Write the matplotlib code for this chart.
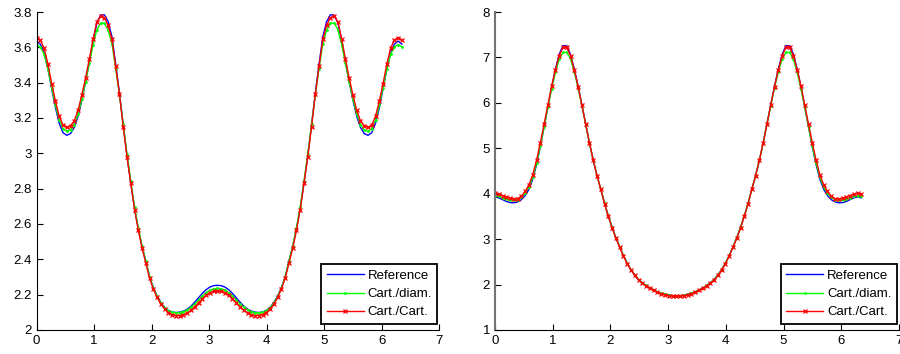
import numpy as np
import matplotlib
matplotlib.use("Agg")
import matplotlib.pyplot as plt

plt.rcParams['font.family'] = ['Liberation Sans', 'DejaVu Sans']

# sample positions (same for every curve)
t = np.linspace(0, 6.35, 98)

# left panel
left_ref = [3.635, 3.618, 3.568, 3.478, 3.365, 3.258, 3.170, 3.117, 3.102, 3.112,
            3.147, 3.210, 3.300, 3.405, 3.518, 3.635, 3.738, 3.783, 3.784, 3.745,
            3.660, 3.505, 3.340, 3.160, 2.985, 2.832, 2.690, 2.573, 2.472, 2.390,
            2.300, 2.240, 2.192, 2.156, 2.128, 2.111, 2.102, 2.099, 2.101, 2.107,
            2.118, 2.135, 2.158, 2.183, 2.207, 2.228, 2.243, 2.251, 2.253,
            2.251, 2.243, 2.228, 2.207, 2.183, 2.158, 2.135, 2.118, 2.107, 2.101,
            2.099, 2.102, 2.111, 2.128, 2.156, 2.192, 2.240, 2.300, 2.390, 2.472,
            2.573, 2.690, 2.832, 2.985, 3.160, 3.340, 3.505, 3.660, 3.745, 3.784,
            3.783, 3.738, 3.635, 3.518, 3.405, 3.300, 3.210, 3.147, 3.112, 3.102,
            3.117, 3.170, 3.258, 3.365, 3.478, 3.568, 3.618, 3.635, 3.618]
left_diam = [3.615, 3.602, 3.560, 3.478, 3.372, 3.272, 3.190, 3.140, 3.125, 3.133,
             3.163, 3.222, 3.307, 3.405, 3.510, 3.615, 3.700, 3.737, 3.735, 3.698,
             3.620, 3.480, 3.330, 3.165, 2.995, 2.842, 2.698, 2.578, 2.475, 2.390,
             2.300, 2.238, 2.190, 2.153, 2.126, 2.109, 2.100, 2.098, 2.099, 2.104,
             2.114, 2.129, 2.148, 2.170, 2.192, 2.211, 2.225, 2.233, 2.236,
             2.233, 2.225, 2.211, 2.192, 2.170, 2.148, 2.129, 2.114, 2.104, 2.099,
             2.098, 2.100, 2.109, 2.126, 2.153, 2.190, 2.238, 2.300, 2.390, 2.475,
             2.578, 2.698, 2.842, 2.995, 3.165, 3.330, 3.480, 3.620, 3.698, 3.735,
             3.737, 3.700, 3.615, 3.510, 3.405, 3.307, 3.222, 3.163, 3.133, 3.125,
             3.140, 3.190, 3.272, 3.372, 3.478, 3.560, 3.602, 3.615, 3.602]
left_cart = [3.655, 3.640, 3.595, 3.505, 3.395, 3.295, 3.210, 3.160, 3.147, 3.156,
             3.185, 3.243, 3.330, 3.426, 3.533, 3.648, 3.745, 3.778, 3.768, 3.724,
             3.645, 3.492, 3.334, 3.150, 2.980, 2.830, 2.682, 2.565, 2.463, 2.378,
             2.292, 2.232, 2.184, 2.146, 2.118, 2.099, 2.087, 2.082, 2.081, 2.086,
             2.096, 2.111, 2.131, 2.154, 2.177, 2.197, 2.211, 2.218, 2.220,
             2.218, 2.211, 2.197, 2.177, 2.154, 2.131, 2.111, 2.096, 2.086, 2.081,
             2.082, 2.087, 2.099, 2.118, 2.146, 2.184, 2.232, 2.292, 2.378, 2.463,
             2.565, 2.682, 2.830, 2.980, 3.150, 3.334, 3.492, 3.645, 3.724, 3.768,
             3.778, 3.745, 3.648, 3.533, 3.426, 3.330, 3.243, 3.185, 3.156, 3.147,
             3.160, 3.210, 3.295, 3.395, 3.505, 3.595, 3.640, 3.655, 3.640]

# right panel
right_ref = [3.930, 3.910, 3.870, 3.830, 3.805, 3.800, 3.820, 3.870, 3.960, 4.100,
             4.320, 4.640, 5.040, 5.470, 5.910, 6.350, 6.740, 7.070, 7.260, 7.260,
             7.060, 6.740, 6.370, 5.960, 5.540, 5.120, 4.740, 4.400, 4.100, 3.790,
             3.510, 3.260, 3.030, 2.830, 2.640, 2.470, 2.330, 2.210, 2.110, 2.040,
             1.980, 1.925, 1.880, 1.840, 1.810, 1.785, 1.765, 1.755, 1.752,
             1.755, 1.765, 1.785, 1.810, 1.840, 1.880, 1.925, 1.980, 2.040, 2.110,
             2.210, 2.330, 2.470, 2.640, 2.830, 3.030, 3.260, 3.510, 3.790, 4.100,
             4.400, 4.740, 5.120, 5.540, 5.960, 6.370, 6.740, 7.060, 7.260, 7.260,
             7.070, 6.740, 6.350, 5.910, 5.470, 5.040, 4.640, 4.320, 4.100, 3.960,
             3.870, 3.820, 3.800, 3.805, 3.830, 3.870, 3.910, 3.930, 3.910]
right_diam = [3.950, 3.940, 3.910, 3.880, 3.860, 3.855, 3.870, 3.920, 4.010, 4.150,
              4.360, 4.670, 5.050, 5.470, 5.900, 6.310, 6.670, 6.960, 7.110, 7.110,
              6.960, 6.680, 6.330, 5.940, 5.530, 5.120, 4.740, 4.400, 4.100, 3.790,
              3.510, 3.260, 3.030, 2.830, 2.640, 2.470, 2.330, 2.210, 2.110, 2.040,
              1.980, 1.925, 1.880, 1.840, 1.810, 1.785, 1.765, 1.755, 1.752,
              1.755, 1.765, 1.785, 1.810, 1.840, 1.880, 1.925, 1.980, 2.040, 2.110,
              2.210, 2.330, 2.470, 2.640, 2.830, 3.030, 3.260, 3.510, 3.790, 4.100,
              4.400, 4.740, 5.120, 5.530, 5.940, 6.330, 6.680, 6.960, 7.110, 7.110,
              6.960, 6.670, 6.310, 5.900, 5.470, 5.050, 4.670, 4.360, 4.150, 4.010,
              3.920, 3.870, 3.855, 3.860, 3.880, 3.910, 3.940, 3.950, 3.940]
right_cart = [4.010, 3.990, 3.960, 3.930, 3.900, 3.880, 3.890, 3.950, 4.050, 4.200,
              4.420, 4.740, 5.120, 5.530, 5.950, 6.370, 6.730, 7.040, 7.220, 7.220,
              7.030, 6.720, 6.360, 5.950, 5.530, 5.120, 4.740, 4.400, 4.100, 3.780,
              3.500, 3.250, 3.020, 2.820, 2.630, 2.460, 2.320, 2.200, 2.100, 2.030,
              1.970, 1.915, 1.870, 1.830, 1.800, 1.775, 1.755, 1.745, 1.742,
              1.745, 1.755, 1.775, 1.800, 1.830, 1.870, 1.915, 1.970, 2.030, 2.100,
              2.200, 2.320, 2.460, 2.630, 2.820, 3.020, 3.250, 3.500, 3.780, 4.100,
              4.400, 4.740, 5.120, 5.530, 5.950, 6.360, 6.720, 7.030, 7.220, 7.220,
              7.040, 6.730, 6.370, 5.950, 5.530, 5.120, 4.740, 4.420, 4.200, 4.050,
              3.950, 3.890, 3.880, 3.900, 3.930, 3.960, 3.990, 4.010, 3.990]

labels = ['Reference', 'Cart./diam.', 'Cart./Cart.']
left_yticks = [2, 2.2, 2.4, 2.6, 2.8, 3, 3.2, 3.4, 3.6, 3.8]
left_ylabels = ['2', '2.2', '2.4', '2.6', '2.8', '3', '3.2', '3.4', '3.6', '3.8']
right_yticks = [1, 2, 3, 4, 5, 6, 7, 8]

fig = plt.figure(figsize=(9, 3.54), dpi=100)
ax1 = fig.add_axes([0.0407, 0.0678, 0.4474, 0.8983])
ax2 = fig.add_axes([0.5500, 0.0678, 0.4488, 0.8983])


def draw(ax, ref, diam, cart):
    ax.plot(t, ref, color='#0000ff', lw=1.0, label=labels[0])
    ax.plot(t, diam, color='#00ff00', lw=1.0, marker='.', ms=2, label=labels[1])
    ax.plot(t, cart, color='#ff0000', lw=1.0, marker='x', ms=3, mew=0.9,
            label=labels[2])
    ax.set_xlim(0, 7)
    ax.set_xticks(range(8))
    ax.spines['top'].set_visible(False)
    ax.spines['right'].set_visible(False)
    ax.tick_params(direction='in', length=4, labelsize=9.5, top=False, right=False)
    leg = ax.legend(loc='lower right', bbox_to_anchor=(0.995, 0.02), borderaxespad=0,
                    fontsize=9.5, fancybox=False, edgecolor='black', framealpha=1,
                    handlelength=2.8, labelspacing=0.45, borderpad=0.4,
                    handletextpad=0.3)
    leg.get_frame().set_linewidth(1.3)


draw(ax1, left_ref, left_diam, left_cart)
ax1.set_ylim(2, 3.8)
ax1.set_yticks(left_yticks)
ax1.set_yticklabels(left_ylabels)

draw(ax2, right_ref, right_diam, right_cart)
ax2.set_ylim(1, 8)
ax2.set_yticks(right_yticks)
ax2.spines['left'].set_color('0.45')
ax2.spines['left'].set_linewidth(1.5)

fig.savefig('out.png', dpi=100)
